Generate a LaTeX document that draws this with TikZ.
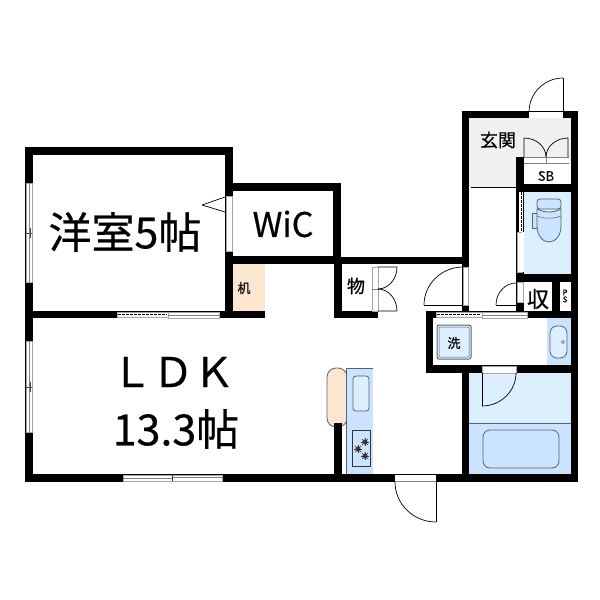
\documentclass[tikz,border=0pt]{standalone}
\usepackage{fontspec}
\setmainfont[FakeBold=0.5]{Noto Sans CJK JP}
\usetikzlibrary{calc}
\definecolor{wetblue}{HTML}{DDEEFF}
\definecolor{tubblue}{HTML}{CBE3FF}
\definecolor{peach}{HTML}{FDE6D0}
\definecolor{entry}{HTML}{F0F0F0}
\definecolor{edge}{HTML}{59636E}
\tikzset{
  wall/.style={fill=black,draw=none},
  opening/.style={fill=white,draw=gray!70,line width=.6pt},
  leaf/.style={draw=black,line width=.7pt,line join=round},
  fixture/.style={draw=edge,line width=.8pt},
  lbl/.style={inner sep=0pt,text=black},
}
\newcommand{\wl}[4]{\fill[wall] (#1,#2) rectangle (#3,#4);}
\newcommand{\qarc}[3]{($(#1)$) .. controls ($(#1)!0.55!(#2)$) and ($(#3)!0.55!(#2)$) .. ($(#3)$)}
\begin{document}
\begin{tikzpicture}[x=1pt,y=-1pt]
\useasboundingbox (0,0) rectangle (600,600);
\fill[white] (0,0) rectangle (600,600);
% floors
\fill[entry] (469,118) rectangle (571,187);
\fill[white] (524,163) rectangle (571,187);
\fill[wetblue] (524,192) rectangle (571,274);
\fill[peach] (233,264) rectangle (265,311);
\fill[tubblue] (547,318) rectangle (571,365);
\fill[wetblue] (469,373) rectangle (571,423);
\fill[tubblue] (469,423) rectangle (571,474);
\draw[edge,line width=.6pt] (469,423) -- (571,423);
\draw[black,line width=.7pt] (471,187) -- (516,187);
% kitchen
\draw[fixture,fill=peach,rounded corners=9pt] (327,368) rectangle (347,427);
\fill[tubblue] (346,368) rectangle (373,474);
\draw[edge,line width=.7pt] (346,368) -- (373,368);
\draw[edge,line width=.5pt] (346,368) -- (346,474);
\draw[fixture,fill=wetblue,rounded corners=3pt] (353,376) rectangle (369,411);
\draw[black!80,line width=.7pt,fill=tubblue] (352,430) rectangle (370,466);
\foreach \bx/\by in {365/442,358/449,365/456}{
  \fill[black!75] (\bx,\by) circle (2.6pt);
  \foreach \a in {0,45,...,315}{\draw[black!80,line width=.5pt] (\bx,\by) -- ++(\a:4.4pt);}
}
% walls
\wl{25}{147}{233}{155}
\wl{25}{147}{33}{482}
\wl{225}{147}{233}{318}
\wl{25}{311}{265}{318}
\wl{225}{183}{341}{191}
\wl{333}{183}{341}{264}
\wl{225}{256}{341}{264}
\wl{333}{257}{469}{264}
\wl{334}{257}{342}{318}
\wl{334}{311}{378}{318}
\wl{462}{111}{578}{118}
\wl{462}{111}{469}{311}
\wl{571}{111}{578}{482}
\wl{516}{157}{524}{311}
\wl{516}{184}{578}{192}
\wl{516}{274}{578}{282}
\wl{552}{282}{560}{311}
\wl{426}{311}{578}{318}
\wl{426}{311}{433}{373}
\wl{426}{365}{578}{373}
\wl{462}{365}{469}{482}
\wl{25}{474}{578}{482}
\wl{334}{423}{342}{482}
% bedroom openings
\draw[opening] (26,183) rectangle (32,282);
\draw[gray,line width=.4pt] (29,183) -- (29,282);
\draw[black!70,line width=.5pt] (26,233) -- (32,233) (30,228) -- (30,238);
\draw[opening] (226,196) rectangle (232,251);
\draw[leaf] (225,197) -- (202,205) -- (225,212);
\draw[opening] (117,312) rectangle (168,317);
\draw[black,line width=1pt,dash pattern=on 2.5pt off 1.5pt] (118,314.5) -- (167,314.5);
\draw[opening] (168,312) rectangle (219,318);
\draw[gray,line width=.4pt] (168,315) -- (219,315);
% LDK openings
\draw[opening] (26,341) rectangle (32,432);
\draw[gray,line width=.4pt] (29,341) -- (29,432);
\draw[black!70,line width=.5pt] (26,387) -- (32,387) (30,382) -- (30,392);
\draw[opening] (123,475) rectangle (222,481);
\draw[gray,line width=.8pt] (123,478.5) -- (172,478.5);
\draw[gray,line width=.5pt] (172,477.5) -- (222,477.5);
\draw[black!80,line width=.5pt] (172,474) -- (172,481);
% closet mono
\draw[opening] (372,267) rectangle (378,311);
\draw[gray,line width=.5pt] (372,289) -- (378,289);
\draw[leaf] (378,267) -- (397,267) \qarc{397,267}{397,289}{378,289};
\draw[leaf] (378,311) -- (397,311) \qarc{397,311}{397,289}{378,289};
% hall door
\draw[opening] (463,267) rectangle (468,305);
\draw[leaf] (424,305) -- (463,305);
\draw[leaf] \qarc{424,305}{424,267}{463,267};
% storage door
\draw[opening] (517,282) rectangle (523,302);
\draw[leaf] (496,305) -- (516,305);
\draw[leaf] \qarc{496,305}{496,283}{516,283};
% PS
\fill[white] (560,282) rectangle (570,311);
% wash sliding door
\draw[opening] (436,312) rectangle (482,317);
\draw[black,line width=1pt,dash pattern=on 2.5pt off 1.5pt] (437,314.5) -- (481,314.5);
\draw[opening] (482,312) rectangle (527,318);
\draw[gray,line width=.4pt] (482,315) -- (527,315);
% bath door
\draw[opening] (482,366) rectangle (516,373);
\draw[leaf] (482,373) -- (482,406);
\draw[leaf] \qarc{482,406}{516,406}{516,373};
% tub
\draw[fixture,rounded corners=7pt] (483,430) rectangle (559,468);
% sink and washer
\draw[fixture,fill=wetblue,rounded corners=7pt] (550,326) rectangle (567,358);
\draw[fixture,line width=.6pt] (563,342) circle (1.5pt);
\draw[edge,line width=1pt,fill=wetblue,rounded corners=2pt] (437,325) rectangle (471,359);
\draw[edge,line width=.5pt,rounded corners=1pt] (439,327) rectangle (469,357);
% entry door
\draw[opening,draw=none] (529,112) rectangle (563,118);
\draw[leaf] (563,112) -- (563,78);
\draw[leaf] \qarc{563,78}{529,78}{529,112};
% shoe box doors
\fill[white] (524,157) rectangle (569,163);
\draw[gray,line width=.5pt] (524,157) -- (569,157) (524,163) -- (569,163) (546,157) -- (546,163);
\draw[leaf] (524,157) -- (524,138) \qarc{524,138}{546,138}{546,157};
\draw[leaf] (568,157) -- (568,138) \qarc{568,138}{546,138}{546,157};
% toilet door
\fill[white] (519,192) rectangle (523,232);
\draw[black,line width=1pt,dash pattern=on 2.5pt off 1.5pt] (521,192) -- (521,232);
\draw[opening] (517,232) rectangle (522,272);
\fill[white] (522,232) rectangle (524,272);
% toilet
\draw[fixture,fill=tubblue,rounded corners=3pt] (537,199) rectangle (561,209);
\draw[fixture,fill=tubblue] (532,213) rectangle (537,228);
\draw[fixture,fill=tubblue] (537,209) -- (537,226) .. controls (537,236) and (543,242) .. (549,242) .. controls (555,242) and (561,236) .. (561,226) -- (561,209) .. controls (553,213) and (545,213) .. (537,209) -- cycle;
\draw[fixture,line width=.5pt] (537,216) .. controls (545,219) and (553,219) .. (561,216);
% front door
\draw[opening,draw=none] (395,475) rectangle (436,481);
\draw[gray,line width=.8pt] (395,481.5) -- (436,481.5);
\draw[leaf] (436,482) -- (436,522);
\draw[leaf] \qarc{395,482}{395,522}{436,522};
% labels
\node[lbl,font=\fontsize{43}{43}\selectfont] (yoshitsu) at (125,232) {洋室5帖};
\node[lbl,font=\fontsize{34}{34}\selectfont] (wic) at (283,224) {WiC};
\node[lbl,font=\fontsize{41}{41}\selectfont] (ldk) at (173,372) {ＬＤＫ};
\node[lbl,font=\fontsize{43}{43}\selectfont] (area) at (176,429) {13.3帖};
\node[lbl,font=\fontsize{18}{18}\selectfont] (genkan) at (498,140) {玄関};
\node[lbl,font=\fontsize{13}{13}\selectfont] (sb) at (546,176) {SB};
\node[lbl,font=\fontsize{13}{13}\selectfont] (desk) at (244,288) {机};
\node[lbl,font=\fontsize{18}{18}\selectfont] (mono) at (356,286) {物};
\node[lbl,font=\fontsize{22}{22}\selectfont] (shu) at (538,299) {収};
\node[lbl,font=\fontsize{8}{8}\selectfont,align=center] (ps) at (565,296) {P\\[-1pt]S};
\node[lbl,font=\fontsize{13}{13}\selectfont] (sentaku) at (454,343) {洗};
\end{tikzpicture}
\end{document}
